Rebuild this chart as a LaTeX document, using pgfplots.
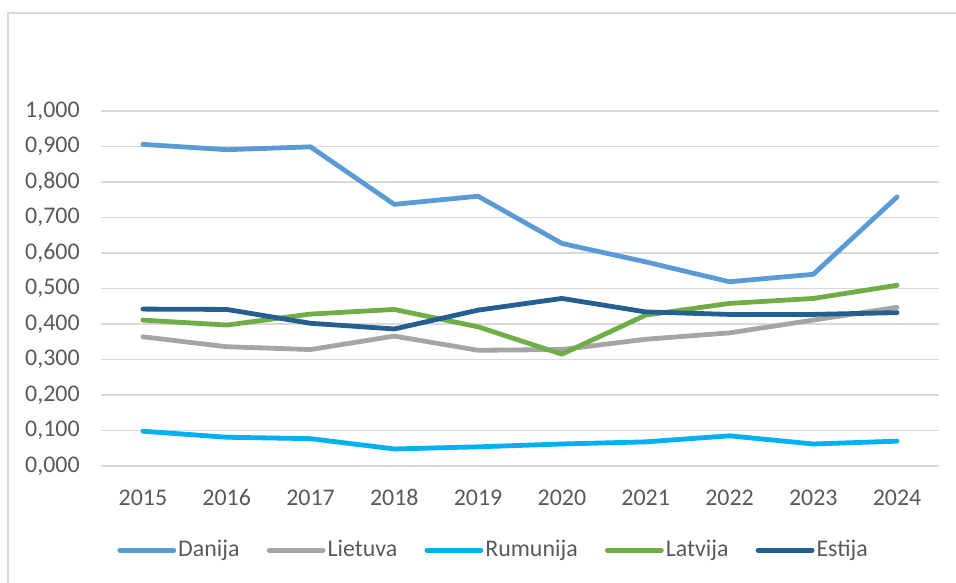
\documentclass[border=0pt]{standalone}
\usepackage{pgfplots}
\pgfplotsset{compat=1.18}
\usepackage{fontspec}
\setmainfont{Carlito}

\definecolor{cDanija}{HTML}{5B9BD5}
\definecolor{cLietuva}{HTML}{A5A5A5}
\definecolor{cRumunija}{HTML}{00B0F0}
\definecolor{cLatvija}{HTML}{70AD47}
\definecolor{cEstija}{HTML}{255E91}
\definecolor{txtgray}{HTML}{595959}
\definecolor{gridgray}{HTML}{D9D9D9}

\pgfplotsset{
  serie/.style={line width=2.4bp, line cap=round, line join=round},
}

\begin{document}
\begin{tikzpicture}
  \useasboundingbox (0,0) rectangle (478bp,291.5bp);
  % chart area border (only left and top are inside the crop)
  \draw[gridgray, line width=0.7bp] (4bp,-2bp) -- (4bp,285bp) -- (480bp,285bp);
  \begin{axis}[
      at={(50.5bp,58.5bp)}, anchor=south west,
      scale only axis, width=419bp, height=177.5bp,
      xmin=-0.5, xmax=9.5, ymin=0, ymax=1,
      xtick={0,...,9},
      xticklabels={2015,2016,2017,2018,2019,2020,2021,2022,2023,2024},
      ytick={0,0.1,...,1.0},
      axis line style={draw=none},
      major tick length=0pt, tick style={draw=none},
      ymajorgrids, major grid style={draw=gridgray, line width=0.75bp},
      tick label style={font=\fontsize{12}{14}\selectfont, text=txtgray},
      xticklabel style={anchor=base, inner sep=0pt, yshift=-19.5bp},
      yticklabel style={anchor=east, inner sep=0pt, xshift=-10.5bp},
      /pgf/number format/.cd, fixed, fixed zerofill, precision=3, use comma,
        assume math mode=true,
      /pgfplots/.cd,
      legend columns=5,
      legend style={draw=none, fill=none, at={(0.468,-0.237)}, anchor=center,
        font=\fontsize{12}{14}\selectfont, text=txtgray,
        nodes={inner sep=0.6bp},
        /tikz/every odd column/.style={column sep=0.4bp},
        /tikz/every even column/.style={column sep=13bp}},
      legend image code/.code={\draw[#1, line width=2.4bp, line cap=round] (0bp,0bp) -- (27bp,0bp);},
    ]
    \addplot[serie, cDanija] coordinates {(0,0.906) (1,0.891) (2,0.899) (3,0.737) (4,0.760)
      (5,0.627) (6,0.575) (7,0.519) (8,0.540) (9,0.758)};
    \addlegendentry{Danija}
    \addplot[serie, cLietuva] coordinates {(0,0.364) (1,0.336) (2,0.328) (3,0.366) (4,0.326)
      (5,0.328) (6,0.357) (7,0.375) (8,0.411) (9,0.447)};
    \addlegendentry{Lietuva}
    \addplot[serie, cRumunija] coordinates {(0,0.098) (1,0.081) (2,0.077) (3,0.048) (4,0.054)
      (5,0.062) (6,0.068) (7,0.085) (8,0.062) (9,0.070)};
    \addlegendentry{Rumunija}
    \addplot[serie, cLatvija] coordinates {(0,0.411) (1,0.397) (2,0.428) (3,0.441) (4,0.392)
      (5,0.315) (6,0.425) (7,0.458) (8,0.472) (9,0.509)};
    \addlegendentry{Latvija}
    \addplot[serie, cEstija] coordinates {(0,0.442) (1,0.441) (2,0.402) (3,0.386) (4,0.439)
      (5,0.472) (6,0.434) (7,0.427) (8,0.427) (9,0.432)};
    \addlegendentry{Estija}
  \end{axis}
\end{tikzpicture}
\end{document}
